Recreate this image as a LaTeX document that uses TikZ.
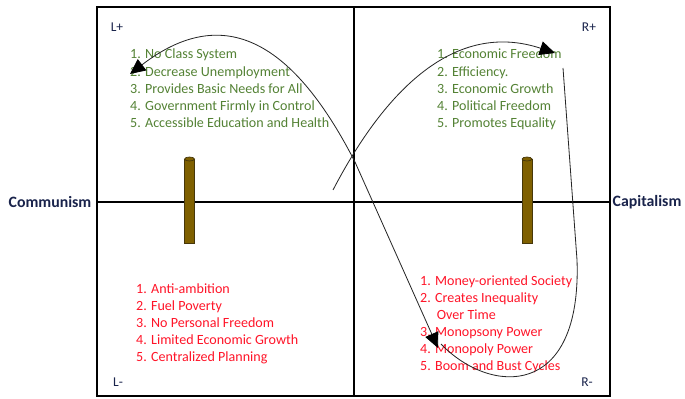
\documentclass[tikz,border=0pt]{standalone}
\usepackage{fontspec}
\setmainfont{Carlito}
\usepackage{tikz}
\usetikzlibrary{shapes,arrows.meta}
\usetikzlibrary{calc}
\usetikzlibrary{positioning}

\definecolor{listgreen}{RGB}{84,130,53}
\definecolor{listred}{RGB}{255,20,40}
\definecolor{pillarbrown}{RGB}{127,96,0}
\definecolor{pillaredge}{RGB}{70,55,10}
\definecolor{axisnavy}{RGB}{25,35,75}

\begin{document}
\begin{tikzpicture}[x=0.03cm,y=-0.03cm,
  listtext/.style={align=left, anchor=north west, inner sep=0pt, font=\fontsize{12}{14.6}\selectfont},
  corner/.style={inner sep=0pt, text=axisnavy, font=\fontsize{11.5}{13}\selectfont},
  axislabel/.style={inner sep=0pt, text=axisnavy, font=\fontsize{13.5}{16}\selectfont\bfseries},
  pillar/.style={fill=pillarbrown, draw=pillaredge, line width=0.6pt},
  flow/.style={black!85, line width=0.7pt},
  >={Triangle[length=13pt,width=12pt,fill=black,color=black]}]
\useasboundingbox (0,0) rectangle (685,398);

% quadrants
\draw[black,line width=1.6pt] (97,7) rectangle (610,396);
\draw[black,line width=1.6pt] (354,7) -- (354,396);
\draw[black,line width=1.6pt] (97,202) -- (610,202);

\node[axislabel] (comm) at (50,202) {Communism};
\node[axislabel] (capit) at (647,202) {Capitalism};

\node[corner] (lplus) at (117,27) {L+};
\node[corner] (rplus) at (589,27) {R+};
\node[corner] (lminus) at (118,382) {L-};
\node[corner] (rminus) at (587,382) {R-};

% lists
\node[listtext, text=listgreen] (commpros) at (130,49) {1. No Class System\\2. Decrease Unemployment\\3. Provides Basic Needs for All\\4. Government Firmly in Control\\5. Accessible Education and Health};
\node[listtext, text=listgreen] (cappros) at (437,49) {1. Economic Freedom\\2. Efficiency.\\3. Economic Growth\\4. Political Freedom\\5. Promotes Equality};
\node[listtext, text=listred] (commcons) at (136,283) {1. Anti-ambition\\2. Fuel Poverty\\3. No Personal Freedom\\4. Limited Economic Growth\\5. Centralized Planning};
\node[listtext, text=listred] (capcons) at (420,275) {1. Money-oriented Society\\2. Creates Inequality\\\hspace*{0.5cm}Over Time\\3. Monopsony Power\\4. Monopoly Power\\5. Boom and Bust Cycles};

% pillars
\filldraw[pillar] (184.5,159) rectangle (194.5,243);
\filldraw[pillar] (189.5,159) ellipse [x radius=5, y radius=2];
\filldraw[pillar] (522,159) rectangle (532,243);
\filldraw[pillar] (527,159) ellipse [x radius=5, y radius=2];

% flow
\coordinate (upstart) at (333,190);
\coordinate (freedomtip) at (555,53);
\coordinate (loopstart) at (563,68);
\coordinate (loopend) at (441,344);
\coordinate (monotip) at (438,348);
\coordinate (cross) at (355,162);
\coordinate (unemptip) at (130,74);

\draw[flow,->] (upstart) .. controls (385,90) and (455,20) .. (freedomtip);
\draw[flow] (loopstart) -- (577,260) .. controls (582,400) and (490,395) .. (loopend);
\draw[flow,<->] (monotip) -- (cross) .. controls (290,35) and (220,5) .. (unemptip);
\end{tikzpicture}
\end{document}
